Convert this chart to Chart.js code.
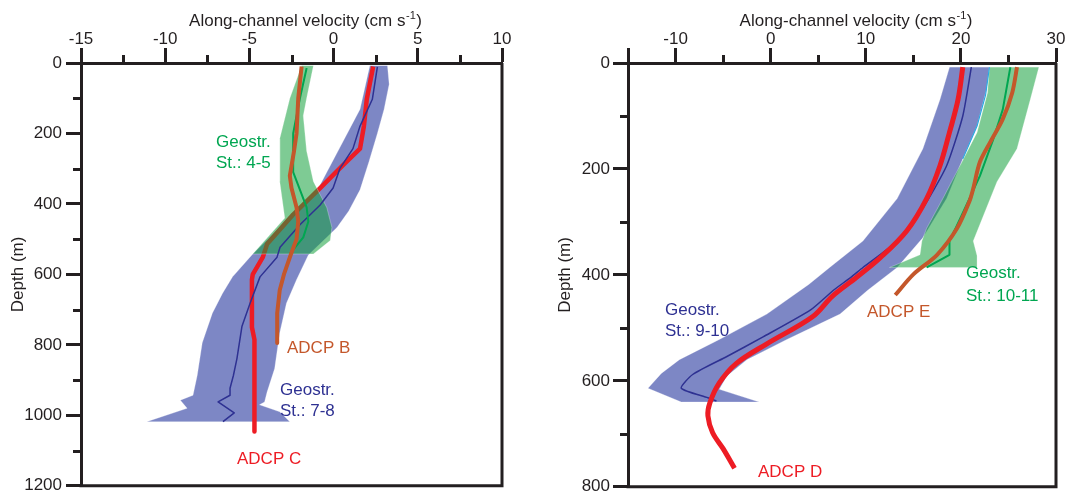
<!DOCTYPE html>
<html><head><meta charset="utf-8">
<script src="https://cdn.jsdelivr.net/npm/chart.js@4.4.1/dist/chart.umd.min.js"></script>
<style>
html,body{margin:0;padding:0;background:#fff;}
#wrap{position:relative;width:1066px;height:500px;overflow:hidden;}
canvas{position:absolute;top:0;}
#c1{left:0}
#c2{left:533px}
</style></head><body>
<div id="wrap"><canvas id="c1" width="533" height="500"></canvas><canvas id="c2" width="533" height="500"></canvas></div>
<script>
// ---------- LEFT PANEL DATA (velocity cm/s, depth m) ----------
const L_adcpB_depth = [10, 100, 200, 250, 320, 355, 410, 450, 500, 545, 600, 645, 710, 795];
const L_adcpB_vel   = [-1.9, -2.1, -2.2, -2.35, -2.6, -2.5, -2.2, -2.1, -2.2, -2.55, -2.95, -3.2, -3.35, -3.35];

const L_adcpC_depth = [10, 103, 179, 243, 290, 355, 430, 514, 551, 600, 615, 750, 785, 1046];
const L_adcpC_vel   = [2.35, 1.97, 1.8, 1.57, 0.56, -0.8, -2.4, -3.95, -4.2, -4.8, -4.85, -4.85, -4.7, -4.7];

const L_geo45_depth = [14, 100, 200, 310, 410, 450, 495, 542];
const L_geo45_vel   = [-1.6, -2.0, -2.4, -2.4, -1.6, -1.5, -1.8, -2.6];
const L_geo45_loDepth = [8, 100, 215, 336, 440, 542];
const L_geo45_loVel   = [-1.9, -2.6, -3.2, -3.2, -2.9, -4.8];
const L_geo45_hiDepth = [8, 100, 150, 250, 336, 411, 467, 504, 542];
const L_geo45_hiVel   = [-1.2, -1.6, -1.8, -1.6, -1.2, -0.4, -0.1, -0.2, -1.2];

const L_geo78_depth = [11, 103, 179, 243, 299, 355, 403, 459, 523, 551, 607, 682, 747, 839, 887, 923, 943, 962, 993, 1018];
const L_geo78_vel   = [2.6, 2.3, 1.57, 1.15, 0.38, -0.03, -0.8, -2.0, -3.18, -3.36, -4.37, -4.96, -5.44, -5.74, -5.95, -6.15, -6.15, -6.86, -5.9, -6.57];
const L_geo78_loDepth = [8, 131, 250, 364, 467, 542, 607, 654, 710, 794, 887, 943, 957, 980, 1018];
const L_geo78_loVel   = [2.15, 1.57, 0.26, -1.0, -3.2, -4.8, -6.0, -6.6, -7.2, -7.8, -8.1, -8.35, -9.1, -8.7, -11.1];
const L_geo78_hiDepth = [8, 60, 131, 200, 280, 360, 420, 467, 545, 615, 682, 766, 867, 934, 962, 970, 990, 1018];
const L_geo78_hiVel   = [3.2, 3.3, 3.0, 2.6, 2.1, 1.57, 0.9, 0.2, -1.5, -2.2, -2.8, -3.2, -3.5, -3.95, -4.1, -4.4, -3.2, -2.6];

// ---------- RIGHT PANEL DATA ----------
const R_adcpD_depth = [8, 69, 131, 194, 256, 317, 368, 405, 440, 479, 530, 567, 604, 642, 666, 698, 728, 765];
const R_adcpD_vel   = [20.2, 19.7, 18.8, 17.8, 16.4, 14.3, 11.5, 9.0, 6.5, 4.4, -0.4, -3.6, -5.4, -6.4, -6.6, -6.1, -5.0, -3.8];

const R_adcpE_depth = [8, 56, 106, 149, 187, 237, 261, 312, 362, 399, 438];
const R_adcpE_vel   = [25.9, 25.4, 24.4, 23.1, 22.0, 21.3, 20.9, 19.6, 17.5, 15.0, 13.1];

const R_geo910_depth = [8, 100, 194, 274, 336, 386, 405, 429, 466, 517, 554, 588, 614, 632, 638];
const R_geo910_vel   = [21.1, 20.2, 18.5, 16.0, 13.3, 9.7, 8.4, 6.6, 4.2, -0.8, -4.6, -8.2, -9.4, -6.6, -5.7];
const R_geo910_loDepth = [8, 69, 162, 256, 336, 386, 418, 474, 522, 560, 586, 614, 640];
const R_geo910_loVel   = [18.8, 17.8, 16.0, 13.3, 9.7, 6.2, 4.0, -0.4, -5.4, -9.6, -11.5, -12.9, -9.4];
const R_geo910_hiDepth = [8, 50, 119, 181, 256, 330, 386, 429, 474, 522, 560, 591, 616, 640];
const R_geo910_hiVel   = [23.0, 22.7, 21.7, 20.2, 18.5, 16.0, 13.3, 10.2, 7.3, 1.7, -2.5, -4.6, -5.4, -1.2];
const R_geo910_edgeDepth = [8, 60, 119, 181];
const R_geo910_edgeVel   = [23.0, 22.6, 21.7, 20.2];

const R_geo1011_depth = [8, 88, 144, 213, 256, 306, 336, 362, 386];
const R_geo1011_vel   = [25.2, 24.4, 23.4, 22.0, 20.9, 19.6, 18.8, 18.8, 16.4];
const R_geo1011_loDepth = [8, 56, 131, 194, 256, 312, 336, 362, 386];
const R_geo1011_loVel   = [23.0, 22.8, 21.7, 19.9, 18.1, 16.4, 15.9, 15.7, 12.5];
const R_geo1011_hiDepth = [8, 69, 162, 224, 336, 364, 386];
const R_geo1011_hiVel   = [28.2, 27.3, 25.9, 23.8, 21.3, 21.7, 21.7];

// ---------- STYLE ----------
const INK = '#231f20';
const FONT = '"Liberation Sans", Arial, Helvetica, sans-serif';
const RED = '#ed1c24', BROWN = '#c4572b', GREEN = '#00a651', NAVY = '#2e3192', CYAN = '#29abe2';
const BLUE_FILL = 'rgba(96,108,184,0.82)';
const GREEN_FILL = 'rgba(20,160,60,0.55)';

function pts(vs, ds) { return vs.map((v, i) => ({x: v, y: ds[i]})); }
function poly(lv, ld, rv, rd) { return pts(lv, ld).concat(pts(rv, rd).reverse()); }

function lineDs(data, color, width, order, tension) {
  return {data, borderColor: color, borderWidth: width, pointRadius: 0, fill: false,
          tension: tension || 0, order, borderCapStyle: 'butt', borderJoinStyle: 'round'};
}
function bandDs(data, color, order) {
  return {data, borderColor: 'rgba(255,255,255,0.35)', borderWidth: 0.8, backgroundColor: color,
          pointRadius: 0, fill: 'shape', tension: 0, order};
}

function makeDeco(cfg) {
  return {
    id: 'deco',
    afterDraw(chart) {
      const {ctx, chartArea: a, scales: {x, y}} = chart;
      ctx.save();
      ctx.strokeStyle = INK; ctx.lineWidth = 3; ctx.lineCap = 'butt';
      // frame (right, bottom)
      ctx.beginPath();
      ctx.moveTo(a.right, a.top); ctx.lineTo(a.right, a.bottom + 1.5);
      ctx.moveTo(a.left - 1.5, a.bottom); ctx.lineTo(a.right + 1.5, a.bottom);
      ctx.stroke();
      // minor ticks
      ctx.beginPath();
      x.ticks.forEach(t => {
        if (!cfg.xMajor(t.value)) { const p = Math.round(x.getPixelForValue(t.value)) + 0.5; ctx.moveTo(p, a.top); ctx.lineTo(p, a.top - 8); }
      });
      y.ticks.forEach(t => {
        if (t.value % 200 !== 0) { const p = Math.round(y.getPixelForValue(t.value)) + 0.5; ctx.moveTo(a.left, p); ctx.lineTo(a.left - 8, p); }
      });
      ctx.stroke();
      // top axis title with superscript
      ctx.fillStyle = INK;
      ctx.textBaseline = 'alphabetic';
      ctx.textAlign = 'left';
      const main = 'Along-channel velocity (cm s';
      ctx.font = '17px ' + FONT;
      const w1 = ctx.measureText(main).width;
      ctx.font = '11px ' + FONT;
      const w2 = ctx.measureText('-1').width;
      ctx.font = '17px ' + FONT;
      const w3 = ctx.measureText(')').width;
      const total = w1 + w2 + w3 + 1;
      const sx = (a.left + a.right) / 2 + 14 - total / 2;
      ctx.fillText(main, sx, 26);
      ctx.font = '11px ' + FONT;
      ctx.fillText('-1', sx + w1 + 0.5, 19);
      ctx.font = '17px ' + FONT;
      ctx.fillText(')', sx + w1 + w2 + 1, 26);
      // annotations
      cfg.labels.forEach(l => {
        ctx.fillStyle = l.color;
        l.lines.forEach((s, i) => ctx.fillText(s, l.x, l.y + i * l.dy));
      });
      ctx.restore();
    }
  };
}

function makeChart(id, cfg, datasets) {
  return new Chart(document.getElementById(id), {
    type: 'line',
    data: {datasets},
    options: {
      responsive: false, animation: false, events: [],
      layout: {padding: {left: 0, top: 0, right: cfg.padRight, bottom: 8}},
      plugins: {legend: {display: false}, tooltip: {enabled: false}},
      scales: {
        x: {
          type: 'linear', position: 'top', min: cfg.xMin, max: cfg.xMax,
          afterFit: s => { s.height = 63; },
          ticks: {stepSize: cfg.xStep, autoSkip: false, maxRotation: 0, padding: -2,
                  color: INK, font: {family: FONT, size: 17},
                  callback: v => cfg.xLabel(v) ? String(v) : ''},
          grid: {drawOnChartArea: false, drawTicks: true, tickLength: 15, tickWidth: 3,
                 tickColor: c => (c.tick && cfg.xMajor(c.tick.value)) ? INK : 'rgba(0,0,0,0)'},
          border: {display: true, width: 3, color: INK}
        },
        y: {
          type: 'linear', position: 'left', reverse: true, min: 0, max: cfg.yMax,
          afterFit: s => { s.width = cfg.yWidth; },
          ticks: {stepSize: 100, autoSkip: false, padding: cfg.yTickPad, color: INK,
                  font: {family: FONT, size: 17},
                  callback: v => v % 200 === 0 ? String(v) : ''},
          grid: {drawOnChartArea: false, drawTicks: true, tickLength: 15, tickWidth: 3,
                 tickColor: c => (c.tick && c.tick.value % 200 === 0) ? INK : 'rgba(0,0,0,0)'},
          border: {display: true, width: 3, color: INK},
          title: {display: true, text: 'Depth (m)', color: INK, font: {family: FONT, size: 17},
                  padding: {top: cfg.yTitlePad, bottom: 0}}
        }
      }
    },
    plugins: [makeDeco(cfg)]
  });
}

// LEFT
makeChart('c1', {
  xMin: -15, xMax: 10, xStep: 2.5, padRight: 31, yMax: 1200, yWidth: 81, yTickPad: 4, yTitlePad: 8,
  xLabel: v => Number.isInteger(v / 5), xMajor: v => Number.isInteger(v / 5),
  labels: [
    {lines: ['Geostr.', 'St.: 4-5'], x: 216, y: 147, dy: 21, color: GREEN},
    {lines: ['ADCP B'], x: 287, y: 353, dy: 0, color: BROWN},
    {lines: ['Geostr.', 'St.: 7-8'], x: 280, y: 395, dy: 21, color: NAVY},
    {lines: ['ADCP C'], x: 237, y: 464, dy: 0, color: RED}
  ]
}, [
  lineDs(pts(L_adcpB_vel, L_adcpB_depth), BROWN, 4, 0),
  lineDs(pts(L_geo45_vel, L_geo45_depth), GREEN, 2, 1),
  lineDs(pts(L_geo78_vel, L_geo78_depth), NAVY, 1.5, 2),
  bandDs(poly(L_geo45_loVel, L_geo45_loDepth, L_geo45_hiVel, L_geo45_hiDepth), GREEN_FILL, 3),
  lineDs(pts(L_adcpC_vel, L_adcpC_depth), RED, 4.5, 4),
  bandDs(poly(L_geo78_loVel, L_geo78_loDepth, L_geo78_hiVel, L_geo78_hiDepth), BLUE_FILL, 5)
]);

// RIGHT
makeChart('c2', {
  xMin: -15, xMax: 30, xStep: 5, padRight: 10, yMax: 800, yWidth: 95, yTickPad: 3, yTitlePad: 22,
  xLabel: v => v % 10 === 0, xMajor: v => v % 10 === 0 || v === -15,
  labels: [
    {lines: ['Geostr.', 'St.: 10-11'], x: 433, y: 278, dy: 23, color: GREEN},
    {lines: ['ADCP E'], x: 334, y: 317, dy: 0, color: BROWN},
    {lines: ['Geostr.', 'St.: 9-10'], x: 132, y: 315, dy: 21, color: NAVY},
    {lines: ['ADCP D'], x: 225, y: 477, dy: 0, color: RED}
  ]
}, [
  lineDs(pts(R_adcpD_vel, R_adcpD_depth), RED, 5, 0, 0.35),
  lineDs(pts(R_adcpE_vel, R_adcpE_depth), BROWN, 4, 1, 0.3),
  lineDs(pts(R_geo1011_vel, R_geo1011_depth), GREEN, 2, 2),
  lineDs(pts(R_geo910_vel, R_geo910_depth), NAVY, 1.5, 3, 0.2),
  lineDs(pts(R_geo910_edgeVel, R_geo910_edgeDepth), CYAN, 1.2, 4),
  bandDs(poly(R_geo1011_loVel, R_geo1011_loDepth, R_geo1011_hiVel, R_geo1011_hiDepth), GREEN_FILL, 5),
  bandDs(poly(R_geo910_loVel, R_geo910_loDepth, R_geo910_hiVel, R_geo910_hiDepth), BLUE_FILL, 6)
]);
</script>
</body></html>
